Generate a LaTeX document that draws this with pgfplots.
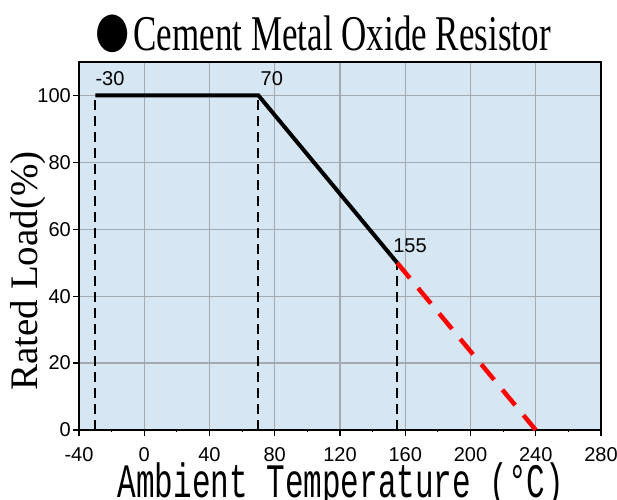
\documentclass[border=0pt]{standalone}
\usepackage{pgfplots}
\pgfplotsset{compat=1.18}
\usepackage{fontspec}
\setmainfont{Liberation Sans}
\newfontfamily\tnr{Liberation Serif}
\newfontfamily\mono{Liberation Mono}
\definecolor{bgblue}{RGB}{214,230,243}
\definecolor{gridgray}{RGB}{165,170,176}
\definecolor{redline}{RGB}{255,0,0}
\begin{document}
\begin{tikzpicture}
\useasboundingbox (-79bp,-70bp) rectangle (538bp,430bp);
\begin{axis}[
  at={(0,0)}, anchor=south west,
  scale only axis, width=522bp, height=368bp,
  xmin=-40, xmax=280, ymin=0, ymax=110,
  xtick={-40,0,40,80,120,160,200,240,280},
  ytick={0,20,40,60,80,100},
  minor x tick num=1,
  xtick pos=bottom, ytick pos=left,
  tick align=outside,
  major tick length=6bp, minor tick length=2.5bp,
  tick style={black, line width=1.2bp},
  minor tick style={black, line width=1bp},
  grid=major,
  major grid style={gridgray, line width=1.3bp},
  axis line style={black, line width=1.5bp},
  axis background/.style={fill=bgblue},
  /pgf/number format/assume math mode=true,
  ticklabel style={font=\fontsize{20bp}{24bp}\selectfont},
  xticklabel style={inner sep=2bp, yshift=-9bp},
  yticklabel style={inner sep=2bp},
  clip=false,
]
\addplot[black, line width=2bp, dash pattern=on 10bp off 6bp] coordinates {(-30,0) (-30,100)};
\addplot[black, line width=2bp, dash pattern=on 10bp off 6bp] coordinates {(70,0) (70,100)};
\addplot[black, line width=2bp, dash pattern=on 10bp off 6bp] coordinates {(155,0) (155,50)};
\addplot[redline, line width=4.5bp, dash pattern=on 20bp off 13bp] coordinates {(155,50) (240,0)};
\addplot[black, line width=4bp, line join=miter] coordinates {(-30,100) (70,100) (155,50)};
\node[anchor=base west, inner sep=0pt, font=\fontsize{20bp}{24bp}\selectfont] at ([yshift=10bp]axis cs:-30,100) {-30};
\node[anchor=base west, inner sep=0pt, font=\fontsize{20bp}{24bp}\selectfont] at ([xshift=2bp,yshift=10bp]axis cs:70,100) {70};
\node[anchor=base west, inner sep=0pt, font=\fontsize{20bp}{24bp}\selectfont] at ([xshift=-4bp,yshift=10bp]axis cs:155,50) {155};
\end{axis}
\node[anchor=base, inner sep=0pt] at (242bp,379bp) {\tnr\fontsize{50bp}{50bp}\selectfont\scalebox{0.7}[1]{\raisebox{-8bp}{\scalebox{2}[1.75]{●}}Cement Metal Oxide Resistor}};
\node[anchor=base, inner sep=0pt, rotate=90] at (-41bp,159bp) {\tnr\fontsize{39bp}{39bp}\selectfont Rated Load(\%)};
\node[anchor=base, inner sep=0pt] at (262bp,-67bp) {\mono\fontsize{31bp}{31bp}\selectfont\scalebox{1}[1.55]{Ambient Temperature (°C)}};
\end{tikzpicture}
\end{document}
